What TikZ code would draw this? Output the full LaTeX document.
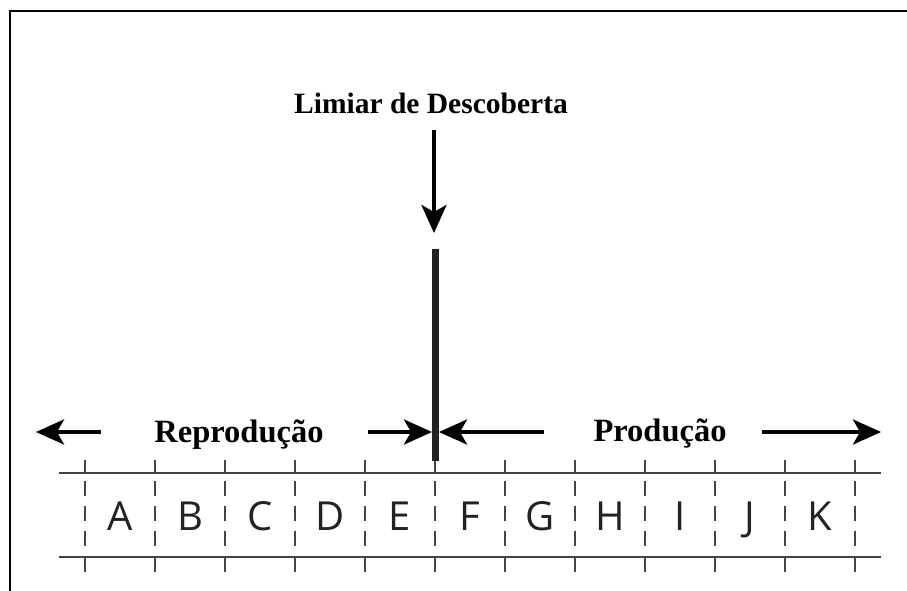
\documentclass[tikz,border=0pt]{standalone}
\usepackage{fontspec}
\setmainfont{Liberation Serif}
\newfontfamily\lettersf{Open Sans}
\usetikzlibrary{arrows.meta}
\definecolor{gridgray}{HTML}{444444}
\definecolor{barblack}{HTML}{222222}
\tikzset{
  frameline/.style={line width=1.8pt, draw=black},
  gridline/.style={line width=1.4pt, draw=gridgray},
  tickline/.style={line width=1.4pt, draw=gridgray},
  dashline/.style={line width=1.4pt, draw=gridgray, dash pattern=on 15pt off 10pt},
  bigarrow/.style={line width=4pt, draw=black, -{Stealth[length=28pt,width=25pt,inset=7pt]}},
  barline/.style={line width=7pt, draw=barblack},
  titletext/.style={anchor=base, inner sep=0pt, font=\fontsize{29.5}{32}\selectfont\bfseries},
  labeltext/.style={anchor=base, inner sep=0pt, font=\fontsize{32.5}{34}\selectfont\bfseries},
  lettertext/.style={anchor=base, inner sep=0pt, text=barblack, font=\lettersf\fontsize{40}{42}\selectfont},
}
\begin{document}
\begin{tikzpicture}[x=1pt,y=-1pt]
\useasboundingbox (0,0) rectangle (907,590);
\fill[white] (0,0) rectangle (907,590);
% frame (left and top visible)
\coordinate (fbl) at (10,592);
\coordinate (ftl) at (10,11);
\coordinate (ftr) at (909,11);
\draw[frameline] (fbl) -- (ftl) -- (ftr);
% title and arrow
\node[titletext] (title) at (431,113) {Limiar de Descoberta};
\coordinate (da1) at (434,130);
\coordinate (da2) at (434,233);
\draw[bigarrow] (da1) -- (da2);
% grid lines
\coordinate (gl1) at (59,473);
\coordinate (gr1) at (881,473);
\coordinate (gl2) at (59,557);
\coordinate (gr2) at (881,557);
\draw[gridline] (gl1) -- (gr1);
\draw[gridline] (gl2) -- (gr2);
\foreach \i in {0,...,11}{
  \pgfmathsetmacro{\xx}{85+70*\i}
  \coordinate (ta\i) at (\xx,460);
  \coordinate (tb\i) at (\xx,473);
  \coordinate (tc\i) at (\xx,557);
  \coordinate (td\i) at (\xx,572);
  \coordinate (da\i) at (\xx,481);
  \coordinate (db\i) at (\xx,548);
  \draw[tickline] (ta\i) -- (tb\i);
  \draw[tickline] (tc\i) -- (td\i);
  \draw[dashline] (da\i) -- (db\i);
}
\foreach \l [count=\k from 0] in {A,B,C,D,E,F,G,H,I,J,K}{
  \pgfmathsetmacro{\xx}{120+70*\k}
  \node[lettertext] (L\l) at (\xx,530) {\l};
}
% threshold bar
\coordinate (bt) at (435,249);
\coordinate (bb) at (435,461);
\draw[barline] (bt) -- (bb);
% labels
\node[labeltext] (rep) at (239,442) {Reprodução};
\node[labeltext] (prod) at (660,441) {Produção};
% horizontal arrows
\coordinate (a1s) at (101,432);
\coordinate (a1e) at (36,432);
\coordinate (a2s) at (368,432);
\coordinate (a2e) at (432,432);
\coordinate (a3s) at (544,432);
\coordinate (a3e) at (439,432);
\coordinate (a4s) at (762,432);
\coordinate (a4e) at (881,432);
\draw[bigarrow] (a1s) -- (a1e);
\draw[bigarrow] (a2s) -- (a2e);
\draw[bigarrow] (a3s) -- (a3e);
\draw[bigarrow] (a4s) -- (a4e);
\end{tikzpicture}
\end{document}
